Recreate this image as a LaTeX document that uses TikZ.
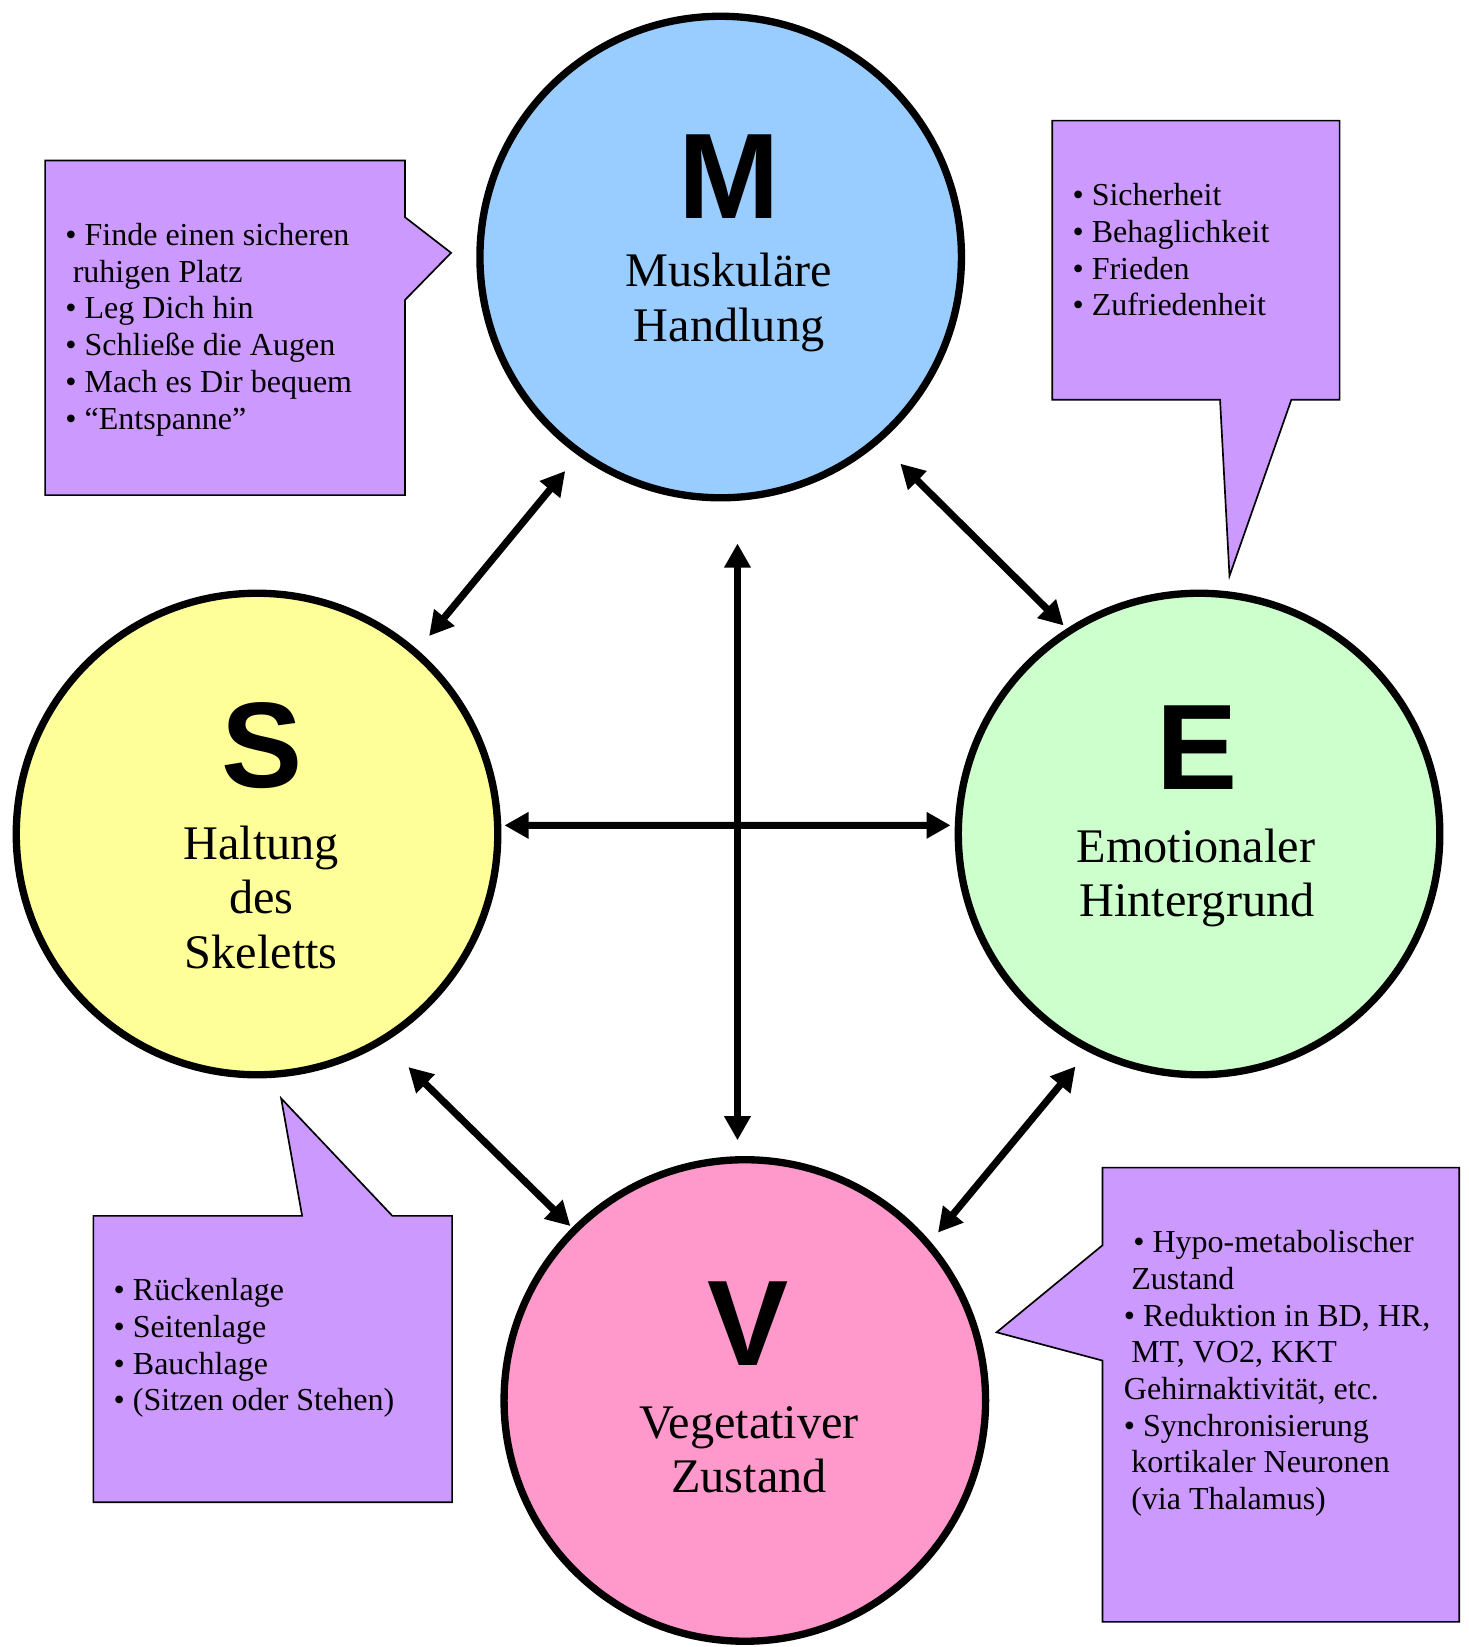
\documentclass[tikz,border=0pt]{standalone}
\usepackage{fontspec}
\setmainfont{Liberation Serif}
\newfontfamily\letterfont{Liberation Sans}
\usetikzlibrary{calc,arrows.meta}
\definecolor{mblue}{RGB}{153,204,255}
\definecolor{syellow}{RGB}{255,255,153}
\definecolor{egreen}{RGB}{204,255,204}
\definecolor{vpink}{RGB}{255,153,204}
\definecolor{calloutcol}{RGB}{204,153,255}
\tikzset{
  bigcircle/.style={circle,draw=black,line width=3.5pt,minimum size=229.5pt,inner sep=0pt},
  bigletter/.style={inner sep=0pt,anchor=base,font=\letterfont\bfseries\fontsize{58}{60}\selectfont},
  circlabel/.style={inner sep=0pt,anchor=base,font=\fontsize{23}{26}\selectfont},
  bullettext/.style={inner sep=0pt,anchor=base west,font=\fontsize{15.25}{17.5}\selectfont},
  callout/.style={draw=black,line width=0.8pt,fill=calloutcol},
  biarrow/.style={line width=3.4pt,{Triangle[length=11.5pt,width=12pt]}-{Triangle[length=11.5pt,width=12pt]}},
}
\begin{document}
\begin{tikzpicture}[x=0.5pt,y=-0.5pt]
\useasboundingbox (0,0) rectangle (1400,1570);
% callouts
\path[callout] (43,153) -- (386,153) -- (386,207) -- (430,241) -- (386,286) -- (386,472) -- (43,472) -- cycle;
\path[callout] (1003,115) -- (1277,115) -- (1277,381) -- (1231,381) -- (1172,549) -- (1163,381) -- (1003,381) -- cycle;
\path[callout] (89,1159) -- (288,1159) -- (268,1047) -- (374,1159) -- (431,1159) -- (431,1432) -- (89,1432) -- cycle;
\path[callout] (1051,1113) -- (1391,1113) -- (1391,1546) -- (1051,1546) -- (1051,1297) -- (950,1270) -- (1051,1187) -- cycle;
% circles
\node[bigcircle,fill=mblue] (M) at (687,245) {};
\node[bigcircle,fill=syellow] (S) at (245,795) {};
\node[bigcircle,fill=egreen] (E) at (1143,795) {};
\node[bigcircle,fill=vpink] (V) at (710,1335) {};
% circle texts
\node[bigletter] (Ml) at (695,208) {M};
\node[circlabel] (Mt1) at (695,273) {Muskuläre};
\node[circlabel] (Mt2) at (695,326) {Handlung};
\node[bigletter] (Sl) at (250,751) {S};
\node[circlabel] (St1) at (249,819) {Haltung};
\node[circlabel] (St2) at (249,871) {des};
\node[circlabel] (St3) at (249,923) {Skeletts};
\node[bigletter] (El) at (1141,753) {E};
\node[circlabel] (Et1) at (1140,822) {Emotionaler};
\node[circlabel] (Et2) at (1141,874) {Hintergrund};
\node[bigletter] (Vl) at (713,1302) {V};
\node[circlabel] (Vt1) at (714,1371) {Vegetativer};
\node[circlabel] (Vt2) at (714,1423) {Zustand};
% callout texts
\node[bullettext] (a1) at (62,234) {• Finde einen sicheren};
\node[bullettext] (a2) at (69,269) {ruhigen Platz};
\node[bullettext] (a3) at (62,304) {• Leg Dich hin};
\node[bullettext] (a4) at (62,339) {• Schließe die Augen};
\node[bullettext] (a5) at (62,374) {• Mach es Dir bequem};
\node[bullettext] (a6) at (62,409) {• “Entspanne”};
\node[bullettext] (b1) at (1022,196) {• Sicherheit};
\node[bullettext] (b2) at (1022,231) {• Behaglichkeit};
\node[bullettext] (b3) at (1022,266) {• Frieden};
\node[bullettext] (b4) at (1022,301) {• Zufriedenheit};
\node[bullettext] (c1) at (108,1240) {• Rückenlage};
\node[bullettext] (c2) at (108,1275) {• Seitenlage};
\node[bullettext] (c3) at (108,1310) {• Bauchlage};
\node[bullettext] (c4) at (108,1345) {• (Sitzen oder Stehen)};
\node[bullettext] (d1) at (1080,1194) {• Hypo-metabolischer};
\node[bullettext] (d2) at (1078,1229) {Zustand};
\node[bullettext] (d3) at (1071,1264) {• Reduktion in BD, HR,};
\node[bullettext] (d4) at (1078,1299) {MT, VO2, KKT};
\node[bullettext] (d5) at (1071,1334) {Gehirnaktivität, etc.};
\node[bullettext] (d6) at (1071,1369) {• Synchronisierung};
\node[bullettext] (d7) at (1078,1404) {kortikaler Neuronen};
\node[bullettext] (d8) at (1078,1439) {(via Thalamus)};
% arrows
\draw[biarrow] ($(M.center)!1.082!(M.234)$) -- ($(S.center)!1.073!(S.49.4)$);
\draw[biarrow] ($(M.center)!1.12!(M.311.6)$) -- ($(E.center)!1.017!(E.123.3)$);
\draw[biarrow] ($(M.south)+(16,40)$) -- ($(V.north)+(-7,-15)$);
\draw[biarrow] ($(S.center)!1.013!(S.2.4)$) -- ($(E.center)!1.017!(E.178.8)$);
\draw[biarrow] ($(S.center)!1.137!(S.303.2)$) -- ($(V.center)!1.009!(V.135.3)$);
\draw[biarrow] ($(E.center)!1.077!(E.242)$) -- ($(V.center)!1.047!(V.41.8)$);
\end{tikzpicture}
\end{document}
